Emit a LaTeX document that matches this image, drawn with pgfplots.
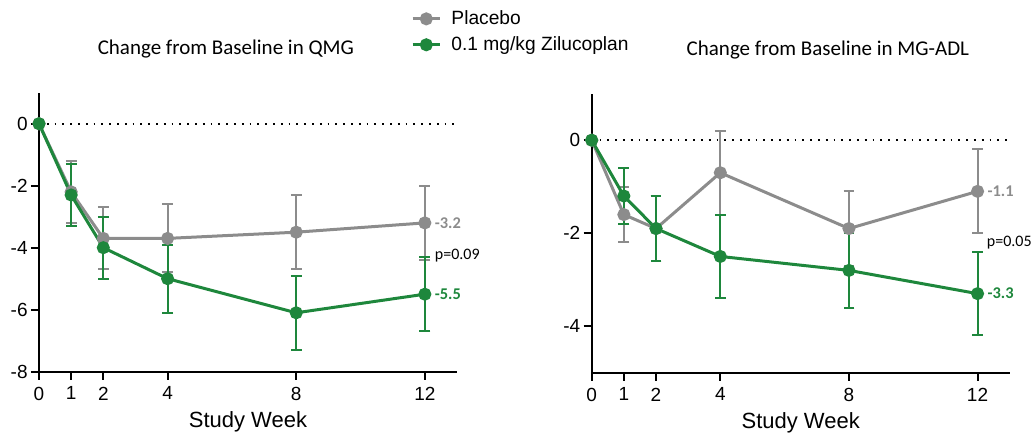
\documentclass[border=0pt]{standalone}
\usepackage{pgfplots}
\pgfplotsset{compat=1.18}
\usepackage{fontspec}
\setmainfont{Liberation Sans}
\newfontfamily\calibri{Carlito}
\definecolor{plgrey}{RGB}{140,140,140}
\definecolor{zgreen}{RGB}{30,135,60}

\pgfplotsset{
  trial/.style={
    scale only axis, width=209pt, height=139.5pt,
    xmin=0, xmax=13, ymax=1,
    axis lines=left, axis line style={-, line width=1pt},
    xtick={0,1,2,4,8,12},
    tick align=outside, major tick length=4pt,
    tick style={black, line width=1pt},
    ticklabel style={font=\fontsize{9.5}{11}\selectfont},
    yticklabel style={inner xsep=1.5pt},
    /pgf/number format/assume math mode=true,
    xlabel={Study Week},
    xlabel style={font=\fontsize{11}{13}\selectfont,
      at={(axis description cs:0.5,-0.18)}, anchor=center},
    clip=false,
  },
  series/.style={
    color=#1, line width=1.5pt, mark=*, mark size=2.5pt,
    error bars/.cd, y dir=both, y explicit,
    error bar style={line width=1pt, #1},
    error mark options={rotate=90, line width=1pt, mark size=2.7pt, #1},
  },
  zeroline/.style={black, line width=0.9pt, dash pattern=on 0.9pt off 3pt, forget plot},
}

\begin{document}
\begin{tikzpicture}
  \path[use as bounding box] (0,0) rectangle (518pt,218.5pt);

  % QMG
  \begin{axis}[trial, at={(19.5pt,32.65pt)}, anchor=south west,
      ymin=-8, ytick={-8,-6,-4,-2,0},
      legend style={draw=none, fill=none, at={(0.875,1.325)}, anchor=north west,
        font=\fontsize{9.6}{11.5}\selectfont, row sep=0.5pt, column sep=3pt,
        legend cell align=left},
      legend image code/.code={
        \draw[mark repeat=2, mark phase=2] plot coordinates {(0cm,0cm) (0.24cm,0cm) (0.48cm,0cm)};}]
    \addplot[zeroline] coordinates {(0,0) (13,0)};
    \addplot[series=plgrey] table[x=x, y=y, y error=e] {
      x y e
      0 0 0
      1 -2.2 1.0
      2 -3.7 1.0
      4 -3.7 1.1
      8 -3.5 1.2
      12 -3.2 1.2
    };
    \addlegendentry{Placebo}
    \addplot[series=zgreen] table[x=x, y=y, y error=e] {
      x y e
      0 0 0
      1 -2.3 1.0
      2 -4.0 1.0
      4 -5.0 1.1
      8 -6.1 1.2
      12 -5.5 1.2
    };
    \addlegendentry{0.1 mg/kg Zilucoplan}
    \node[anchor=west, font=\calibri\bfseries\fontsize{8.2}{10}\selectfont, text=plgrey, inner sep=0pt] at (axis cs:12.3,-3.2) {-3.2};
    \node[anchor=west, font=\calibri\fontsize{8}{10}\selectfont, inner sep=0pt] at (axis cs:12.3,-4.25) {p=0.09};
    \node[anchor=west, font=\calibri\bfseries\fontsize{8.2}{10}\selectfont, text=zgreen, inner sep=0pt] at (axis cs:12.3,-5.5) {-5.5};
    \node[font=\calibri\fontsize{10.5}{12}\selectfont] at (rel axis cs:0.447,1.157) {Change from Baseline in QMG};
  \end{axis}

  % MG-ADL
  \begin{axis}[trial, at={(295.85pt,32.15pt)}, anchor=south west,
      ymin=-5, ytick={-4,-2,0}]
    \addplot[zeroline] coordinates {(0,0) (13,0)};
    \addplot[series=plgrey] table[x=x, y=y, y error=e] {
      x y e
      0 0 0
      1 -1.6 0.6
      2 -1.9 0.7
      4 -0.7 0.9
      8 -1.9 0.8
      12 -1.1 0.9
    };
    \addplot[series=zgreen] table[x=x, y=y, y error=e] {
      x y e
      0 0 0
      1 -1.2 0.6
      2 -1.9 0.7
      4 -2.5 0.9
      8 -2.8 0.8
      12 -3.3 0.9
    };
    \node[anchor=west, font=\calibri\bfseries\fontsize{8.2}{10}\selectfont, text=plgrey, inner sep=0pt] at (axis cs:12.3,-1.1) {-1.1};
    \node[anchor=west, font=\calibri\fontsize{8}{10}\selectfont, inner sep=0pt] at (axis cs:12.28,-2.2) {p=0.05};
    \node[anchor=west, font=\calibri\bfseries\fontsize{8.2}{10}\selectfont, text=zgreen, inner sep=0pt] at (axis cs:12.3,-3.3) {-3.3};
    \node[font=\calibri\fontsize{10.5}{12}\selectfont] at (rel axis cs:0.565,1.158) {Change from Baseline in MG-ADL};
  \end{axis}
\end{tikzpicture}
\end{document}
